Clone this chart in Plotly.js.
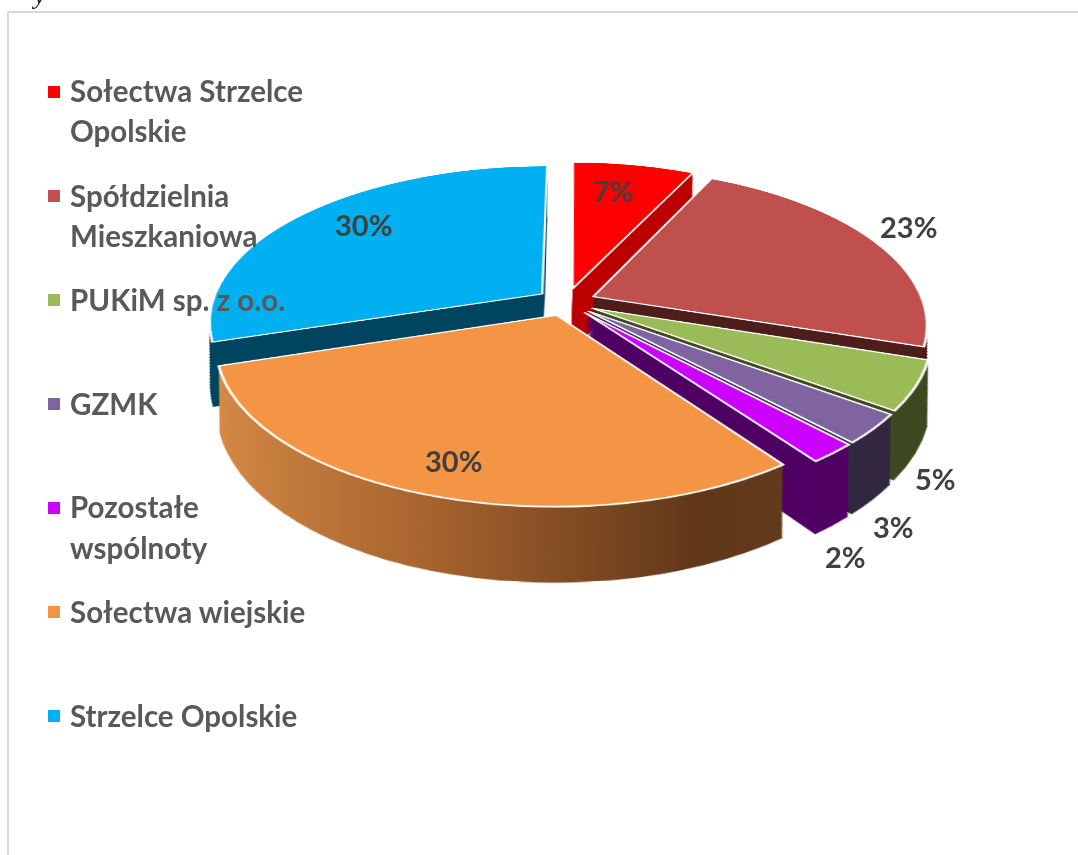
<!DOCTYPE html>
<html>
<head>
<meta charset="utf-8">
<script src="https://cdn.plot.ly/plotly-3.0.1.min.js"></script>
<style>
html,body{margin:0;padding:0;background:#fff;overflow:hidden;width:1078px;height:855px}
#chart{width:1078px;height:855px;background:#fff}
</style>
</head>
<body>
<div id="chart"></div>
<script>
const categories = ["Sołectwa Strzelce<br>Opolskie","Spółdzielnia<br>Mieszkaniowa","PUKiM sp. z o.o.","GZMK","Pozostałe<br>wspólnoty","Sołectwa wiejskie","Strzelce Opolskie"];
const shares = [7,23,5,3,2,30,30];
const topColors = ["#FF0000","#C0504D","#9BBB59","#8064A2","#CC00FF","#F39545","#00B0F0"];
const wallColors = ["#BC0000","#4E1E1C","#3D4A22","#322840","#500064","#8A5528","#00455F"];
const labelText = shares.map(v => v + "%");
const labelPos = [[613,190],[908,227],[935,478],[893,526],[845,556],[453,460],[363,224]];
const legendY = [91,195,299,403,507,611,715];

const W = 1078, H = 855, DOMAIN = 654, CX = 539, TOP = 20, DEPTH = 114, SHRINK = 0.068, LAYERS = 54, EXPLODE = 0.09;

function pieAt(f, colors, lineW) {
  const size = DOMAIN * (1 - SHRINK * f);
  const cy = TOP + DOMAIN/2 + DEPTH * f;
  return {
    type: "pie", labels: categories, values: shares, sort: false, direction: "clockwise", rotation: 0.3,
    pull: shares.map(() => EXPLODE), textinfo: "none", hoverinfo: "skip", showlegend: false,
    marker: {colors: colors, line: {color: "#FFFFFF", width: lineW}},
    domain: {x: [(CX - size/2)/W, (CX + size/2)/W], y: [1 - (cy + size/2)/H, 1 - (cy - size/2)/H]}
  };
}
const traces = [];
for (let k = LAYERS; k >= 1; k--) traces.push(pieAt(k / LAYERS, wallColors, 0));
traces.push(pieAt(0, topColors, 2.2));

const annotations = [], shapes = [];
const px = (x,y) => ({x: x/W, y: 1 - y/H, xref: "paper", yref: "paper"});
const legendFont = {family: "Lato, 'Open Sans', sans-serif", size: 29.5, color: "#595959", weight: 700};
categories.forEach((c,i) => {
  c.split("<br>").forEach((line,j) => {
    annotations.push(Object.assign(px(68, legendY[i] + j*40), {text: "<b>"+line+"</b>", showarrow: false, xanchor: "left", yanchor: "middle", font: legendFont}));
  });
  shapes.push({type: "rect", xref: "paper", yref: "paper", x0: 48/W, x1: 60/W, y0: 1-(legendY[i]+7)/H, y1: 1-(legendY[i]-5)/H, fillcolor: topColors[i], line: {width: 0}, layer: "above"});
});
labelText.forEach((t,i) => {
  annotations.push(Object.assign(px(labelPos[i][0], labelPos[i][1]), {text: "<b>"+t+"</b>", showarrow: false, xanchor: "center", yanchor: "middle", font: {family: "Lato, 'Open Sans', sans-serif", size: 29, color: "#404040"}}));
});
annotations.push(Object.assign(px(38, -4), {text: "<i>y</i>", showarrow: false, xanchor: "center", yanchor: "middle", font: {family: "Liberation Serif, serif", size: 26, color: "#222"}}));
shapes.push({type: "line", xref: "paper", yref: "paper", x0: 7/W, x1: 1, y0: 1-12/H, y1: 1-12/H, line: {color: "#D9D9D9", width: 2}, layer: "above"});
shapes.push({type: "line", xref: "paper", yref: "paper", x0: 8/W, x1: 8/W, y0: 0, y1: 1-12/H, line: {color: "#D9D9D9", width: 2}, layer: "above"});

const layout = {
  width: W, height: H, margin: {l: 0, r: 0, t: 0, b: 0},
  paper_bgcolor: "rgba(0,0,0,0)", plot_bgcolor: "rgba(0,0,0,0)",
  showlegend: false, annotations: annotations, shapes: shapes
};
Plotly.newPlot("chart", traces, layout, {displayModeBar: false, staticPlot: true}).then(gd => {
  const paper = gd.querySelector("svg.main-svg");
  const ns = "http://www.w3.org/2000/svg";
  const defs = paper.querySelector("defs") || paper.insertBefore(document.createElementNS(ns,"defs"), paper.firstChild);
  const g = document.createElementNS(ns,"linearGradient");
  g.setAttribute("id","wallGrad"); g.setAttribute("x1","0"); g.setAttribute("x2","1"); g.setAttribute("y1","0"); g.setAttribute("y2","0");
  [["0","#D58A45"],["0.4","#A9652F"],["0.85","#613719"],["1","#623A1C"]].forEach(s => {
    const st = document.createElementNS(ns,"stop"); st.setAttribute("offset",s[0]); st.setAttribute("stop-color",s[1]); g.appendChild(st);
  });
  defs.appendChild(g);
  const layers = gd.querySelectorAll(".pielayer .trace");
  layers.forEach((tr,idx) => {
    if (idx === layers.length-1) return;
    const surf = tr.querySelectorAll(".slice path.surface");
    if (surf[5]) surf[5].style.fill = "url(#wallGrad)";
  });
  paper.style.transformOrigin = CX + "px " + (TOP + DOMAIN/2) + "px";
  paper.style.transform = "translate(27px,-45px) perspective(1680px) rotateX(62.4deg) scale(1.10)";
});
</script>
</body>
</html>
